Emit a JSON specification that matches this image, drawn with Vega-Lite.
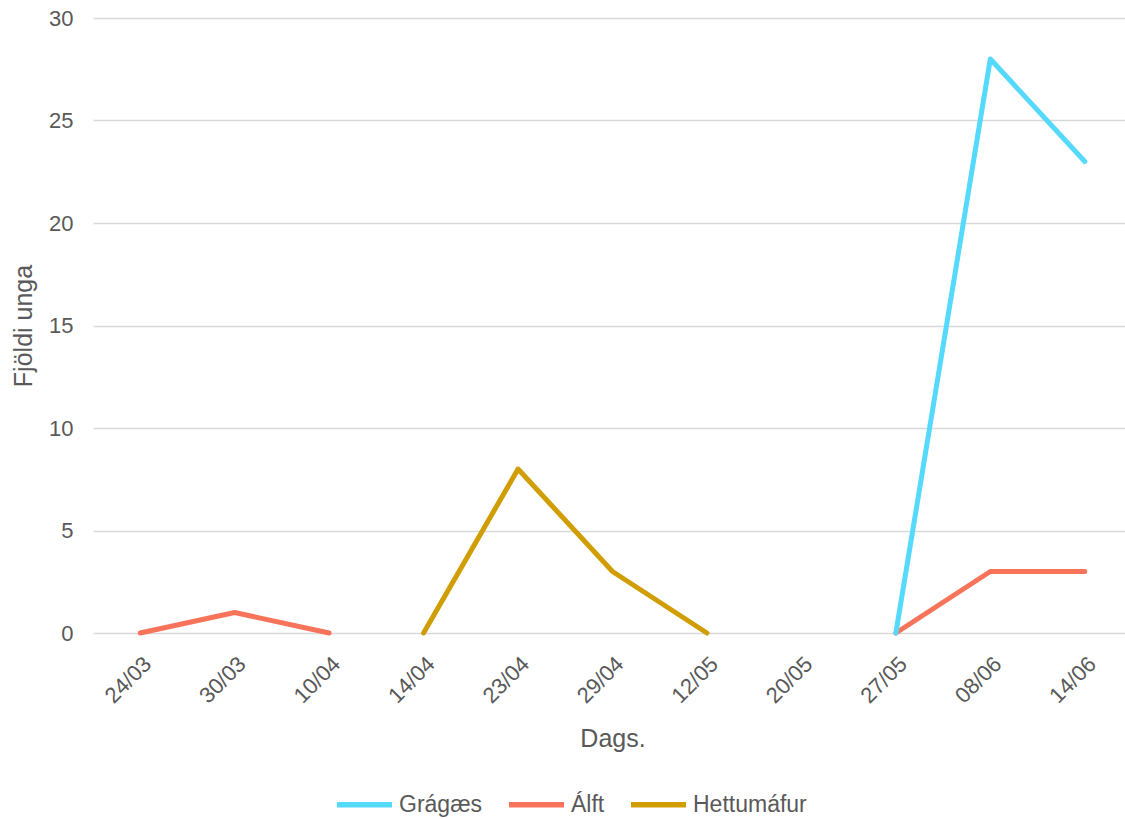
{
  "$schema": "https://vega.github.io/schema/vega-lite/v6.json",
  "width": 1032,
  "height": 615,
  "autosize": {"type": "none"},
  "padding": {"left": 93, "top": 18, "right": 0, "bottom": 186},
  "background": "white",
  "config": {
    "view": {"stroke": null},
    "font": "Liberation Sans",
    "axis": {"labelFont": "Liberation Sans", "titleFont": "Liberation Sans", "labelColor": "#595959", "titleColor": "#595959", "titleFontWeight": "normal"},
    "legend": {"labelFont": "Liberation Sans", "labelColor": "#595959"}
  },
  "data": {
    "values": [
      {"dags": "24/03", "tegund": "Álft", "hluti": "a1", "fjoldi": 0},
      {"dags": "30/03", "tegund": "Álft", "hluti": "a1", "fjoldi": 1},
      {"dags": "10/04", "tegund": "Álft", "hluti": "a1", "fjoldi": 0},
      {"dags": "27/05", "tegund": "Álft", "hluti": "a2", "fjoldi": 0},
      {"dags": "08/06", "tegund": "Álft", "hluti": "a2", "fjoldi": 3},
      {"dags": "14/06", "tegund": "Álft", "hluti": "a2", "fjoldi": 3},
      {"dags": "14/04", "tegund": "Hettumáfur", "hluti": "h1", "fjoldi": 0},
      {"dags": "23/04", "tegund": "Hettumáfur", "hluti": "h1", "fjoldi": 8},
      {"dags": "29/04", "tegund": "Hettumáfur", "hluti": "h1", "fjoldi": 3},
      {"dags": "12/05", "tegund": "Hettumáfur", "hluti": "h1", "fjoldi": 0},
      {"dags": "27/05", "tegund": "Grágæs", "hluti": "g1", "fjoldi": 0},
      {"dags": "08/06", "tegund": "Grágæs", "hluti": "g1", "fjoldi": 28},
      {"dags": "14/06", "tegund": "Grágæs", "hluti": "g1", "fjoldi": 23}
    ]
  },
  "mark": {"type": "line", "strokeWidth": 5, "strokeCap": "round", "strokeJoin": "round"},
  "encoding": {
    "x": {
      "field": "dags",
      "type": "ordinal",
      "title": "Dags.",
      "scale": {
        "type": "point",
        "domain": ["24/03", "30/03", "10/04", "14/04", "23/04", "29/04", "12/05", "20/05", "27/05", "08/06", "14/06"],
        "range": [0, 1039],
        "padding": 0.5
      },
      "axis": {
        "labelAngle": -45,
        "labelFontSize": 22,
        "titleFontSize": 25,
        "ticks": false,
        "domain": false,
        "grid": false,
        "labelPadding": 20,
        "titlePadding": 20
      }
    },
    "y": {
      "field": "fjoldi",
      "type": "quantitative",
      "title": "Fjöldi unga",
      "scale": {"domain": [0, 30]},
      "axis": {
        "values": [0, 5, 10, 15, 20, 25, 30],
        "labelFontSize": 22,
        "titleFontSize": 25,
        "ticks": false,
        "domain": false,
        "gridColor": "#d9d9d9",
        "gridWidth": 1.5,
        "labelPadding": 20,
        "titlePadding": 12
      }
    },
    "color": {
      "field": "tegund",
      "type": "nominal",
      "scale": {"domain": ["Grágæs", "Álft", "Hettumáfur"], "range": ["#55D9FC", "#F7735A", "#D09E03"]},
      "legend": {
        "title": null,
        "orient": "none",
        "direction": "horizontal",
        "legendX": 241,
        "legendY": 756,
        "symbolType": "stroke",
        "symbolSize": 3025,
        "symbolStrokeWidth": 5.5,
        "labelFontSize": 23,
        "labelOffset": 4,
        "columnPadding": 15,
        "padding": 0
      }
    },
    "detail": {"field": "hluti", "type": "nominal"}
  }
}
